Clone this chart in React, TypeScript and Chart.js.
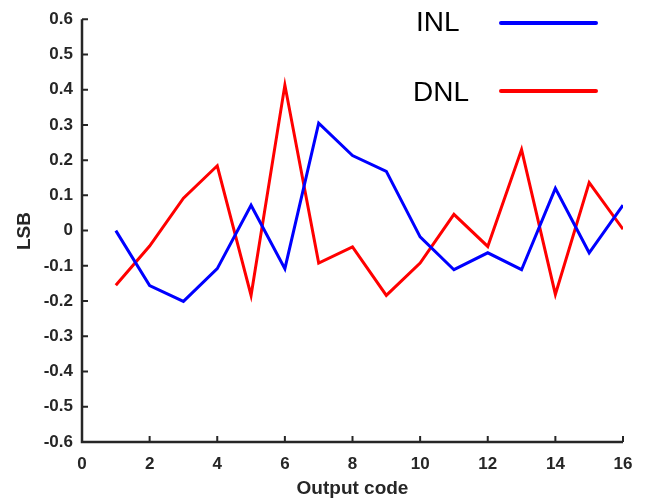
import React, { useEffect, useRef } from "react";
import { Chart, registerables } from "chart.js";

Chart.register(...registerables);

// Output codes and measured nonlinearity (LSB)
const codes = [1, 2, 3, 4, 5, 6, 7, 8, 9, 10, 11, 12, 13, 14, 15, 16];
const inl = [0, -0.156, -0.201, -0.108, 0.072, -0.108, 0.305, 0.213, 0.168, -0.018, -0.111, -0.063, -0.111, 0.12, -0.063, 0.072];
const dnl = [-0.155, -0.044, 0.092, 0.184, -0.184, 0.413, -0.092, -0.046, -0.184, -0.092, 0.046, -0.045, 0.23, -0.181, 0.136, 0.004];

const legendItems = [
  { label: "INL", color: "#0000ff" },
  { label: "DNL", color: "#ff0000" },
];

const xTitle = "Output code";
const yTitle = "LSB";

const AXIS_COLOR = "#262626";
const FONT = "'Liberation Sans', Arial, Helvetica, sans-serif";

const axesPlugin = {
  id: "matlabAxes",
  afterDraw(chart: any) {
    const { ctx, chartArea, scales } = chart;
    const x = scales.x;
    const y = scales.y;
    const { left, right, top, bottom } = chartArea;
    ctx.save();

    // Axis lines (left and bottom only)
    ctx.strokeStyle = AXIS_COLOR;
    ctx.lineWidth = 2.5;
    ctx.lineCap = "butt";
    ctx.beginPath();
    ctx.moveTo(left, top);
    ctx.lineTo(left, bottom);
    ctx.lineTo(right, bottom);
    ctx.stroke();

    // Inward tick marks
    const tickLen = 6;
    ctx.lineWidth = 2;
    ctx.beginPath();
    x.ticks.forEach((t: any) => {
      const px = x.getPixelForValue(t.value);
      ctx.moveTo(px, bottom);
      ctx.lineTo(px, bottom - tickLen);
    });
    y.ticks.forEach((t: any) => {
      const py = y.getPixelForValue(t.value);
      ctx.moveTo(left, py);
      ctx.lineTo(left + tickLen, py);
    });
    ctx.stroke();

    // Axis titles
    ctx.fillStyle = AXIS_COLOR;
    ctx.font = `bold 19px ${FONT}`;
    ctx.textAlign = "center";
    ctx.textBaseline = "middle";
    ctx.fillText(xTitle, 352.5, 489);
    ctx.save();
    ctx.translate(25, 231);
    ctx.rotate(-Math.PI / 2);
    ctx.fillText(yTitle, 0, 0);
    ctx.restore();

    // Legend
    ctx.font = `28px ${FONT}`;
    ctx.textAlign = "left";
    ctx.fillStyle = "#000000";
    const rows = [
      { textX: 416, textY: 23, lineY: 23 },
      { textX: 413, textY: 93, lineY: 91 },
    ];
    legendItems.forEach((item, i) => {
      const r = rows[i];
      ctx.fillText(item.label, r.textX, r.textY);
      ctx.strokeStyle = item.color;
      ctx.lineWidth = 4;
      ctx.lineCap = "round";
      ctx.beginPath();
      ctx.moveTo(501, r.lineY);
      ctx.lineTo(596, r.lineY);
      ctx.stroke();
    });

    ctx.restore();
  },
};

export default function App() {
  const canvasRef = useRef<HTMLCanvasElement | null>(null);

  useEffect(() => {
    if (!canvasRef.current) return;
    const chart = new Chart(canvasRef.current, {
      type: "line",
      data: {
        datasets: [
          {
            label: legendItems[0].label,
            data: codes.map((c, i) => ({ x: c, y: inl[i] })),
            borderColor: legendItems[0].color,
            borderWidth: 3,
            pointRadius: 0,
            tension: 0,
          },
          {
            label: legendItems[1].label,
            data: codes.map((c, i) => ({ x: c, y: dnl[i] })),
            borderColor: legendItems[1].color,
            borderWidth: 3,
            pointRadius: 0,
            tension: 0,
          },
        ],
      },
      options: {
        animation: false,
        responsive: false,
        layout: { padding: { top: 16, right: 26, left: 0, bottom: 0 } },
        plugins: {
          legend: { display: false },
          tooltip: { enabled: false },
        },
        scales: {
          x: {
            type: "linear",
            min: 0,
            max: 16,
            grid: { display: false, drawTicks: false },
            border: { display: false },
            ticks: {
              stepSize: 2,
              color: AXIS_COLOR,
              font: { family: FONT, size: 17, weight: "bold" },
              padding: 12,
              maxRotation: 0,
            },
            afterFit(scale: any) {
              scale.height = 58;
            },
          },
          y: {
            type: "linear",
            min: -0.6,
            max: 0.6,
            grid: { display: false, drawTicks: false },
            border: { display: false },
            ticks: {
              stepSize: 0.1,
              color: AXIS_COLOR,
              font: { family: FONT, size: 17, weight: "bold" },
              padding: 9,
              callback: (v: any) => {
                const n = Math.round(Number(v) * 10) / 10;
                return n === 0 ? "0" : n.toFixed(1);
              },
            },
            afterFit(scale: any) {
              scale.width = 82;
            },
          },
        },
      },
      plugins: [axesPlugin],
    });
    return () => chart.destroy();
  }, []);

  return (
    <div style={{ position: "fixed", left: 0, top: 0, width: 649, height: 500, background: "#fff" }}>
      <canvas ref={canvasRef} width={649} height={500} style={{ display: "block" }} />
    </div>
  );
}
